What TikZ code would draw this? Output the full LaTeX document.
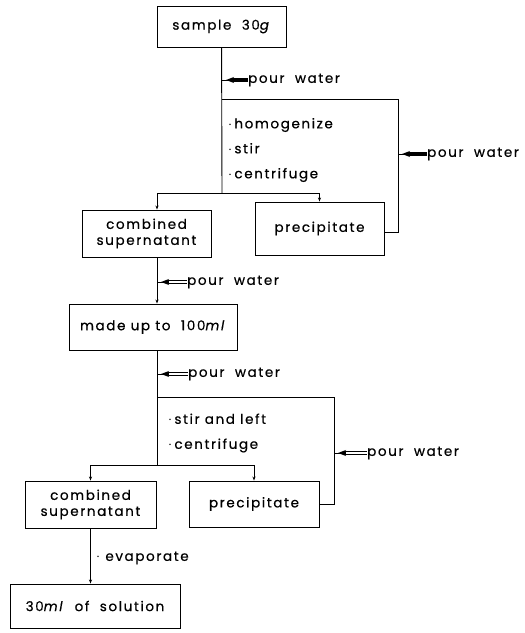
\documentclass[tikz,border=0pt]{standalone}
\usepackage{fontspec}
\setmainfont{Poppins}[LetterSpace=12, FakeBold=0.6]
\usetikzlibrary{positioning,arrows.meta}

\begin{document}
\begin{tikzpicture}[
  x=1pt, y=-1pt,
  >={Stealth[length=4pt,width=3pt]},
  box/.style={draw, line width=0.9pt, align=center, inner sep=2pt,
              font=\fontsize{13.5}{16}\selectfont},
  note/.style={anchor=west, align=left, inner sep=0pt,
               font=\fontsize{13.5}{25}\selectfont},
  link/.style={line width=0.9pt},
  pour/.style={line width=3.4pt, -{Stealth[length=8pt,width=6pt]}, shorten >=4pt,
               preaction={draw, line width=0.9pt, arrows=-, shorten >=0pt}},
  pourdbl/.style={line width=3.6pt, -{Stealth[length=8pt,width=6pt]}, shorten >=4pt,
                  preaction={draw, line width=0.9pt, arrows=-, shorten >=0pt},
                  postaction={draw=white, line width=1.4pt, arrows=-, shorten >=12pt}}
]
  \useasboundingbox (0,0) rectangle (525,633);

  % boxes
  \node[box, minimum width=129pt, minimum height=41pt] (sample) at (221.5,26.5) {sample \ 30\textit{g}};
  \node[box, minimum width=129pt, minimum height=47pt] (comb1) at (146.5,233.5) {combined\\supernatant};
  \node[box, minimum width=129pt, minimum height=53pt] (prec1) at (319.5,228.5) {precipitate};
  \node[box, minimum width=168pt, minimum height=46pt] (made) at (153,327) {made up to \ 100\textit{ml}};
  \node[box, minimum width=131pt, minimum height=47pt] (comb2) at (90.5,504.5) {combined\\supernatant};
  \node[box, minimum width=130pt, minimum height=46pt] (prec2) at (254,504) {precipitate};
  \node[box, minimum width=170pt, minimum height=44pt] (sol) at (95,606) {30\textit{ml} \ of \ solution};

  % junctions
  \coordinate (j1) at (222,193);
  \coordinate (l1) at (222,99);
  \coordinate (r1) at (398,99);
  \coordinate (j2) at (157,465);
  \coordinate (l2) at (157,397);
  \coordinate (r2) at (334,397);

  % texts
  \node[note] (pw1) at (248,80) {pour \ water};
  \node[note] (pw2) at (427,154) {pour \ water};
  \node[note] (ops1) at (228,150) {$\cdot$\,homogenize\\$\cdot$\,stir\\$\cdot$\,centrifuge};
  \node[note] (pw3) at (187,282) {pour \ water};
  \node[note] (pw4) at (188,374) {pour \ water};
  \node[note] (pw5) at (367,453) {pour \ water};
  \node[note] (ops2) at (168,433) {$\cdot$\,stir and left\\$\cdot$\,centrifuge};
  \node[note] (evap) at (96,558) {$\cdot$\ evaporate};

  % first wash
  \draw[link] (sample) -- (j1);
  \draw[link] (l1) -- (r1) |- ([yshift=-3.5pt]prec1.east);
  \draw[link, ->] (j1) -| ([xshift=10.5pt]comb1.north);
  \draw[link, ->] (j1) -| (prec1.north);
  \draw[pour] (pw1.west) -- (pw1.west -| l1);
  \draw[pour] (pw2.west) -- (pw2.west -| r1);

  % make up
  \draw[link, ->] ([xshift=10.5pt]comb1.south) -- ([xshift=10.5pt]comb1.south |- made.north);
  \draw[pourdbl] (pw3.west) -- (pw3.west -| j2);

  % second wash
  \draw[link] (made.south -| j2) -- (j2);
  \draw[link] (l2) -- (r2) |- (prec2.east);
  \draw[link, ->] (j2) -| (comb2.north);
  \draw[link, ->] (j2) -| (prec2.north);
  \draw[pourdbl] (pw4.west) -- (pw4.west -| j2);
  \draw[pourdbl] (pw5.west) -- (pw5.west -| r2);

  % evaporate
  \draw[link, ->] (comb2) -- (sol.north -| comb2.south);
\end{tikzpicture}
\end{document}
